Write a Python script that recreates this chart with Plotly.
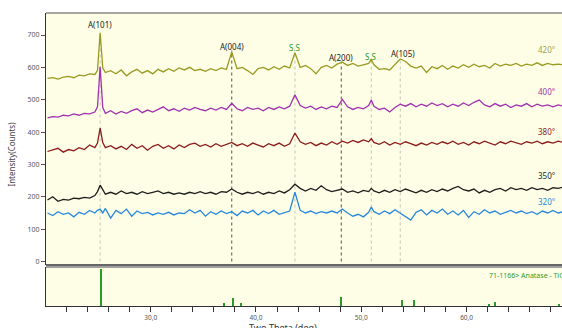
import plotly.graph_objects as go

# ---------------- data ----------------
two_theta = [20.2, 20.7, 21.2, 21.7, 22.2, 22.7, 23.2, 23.7, 24.2, 24.7,
             24.95, 25.2, 25.45,
             25.7, 26.2, 26.7, 27.2, 27.7, 28.2, 28.7, 29.2, 29.7,
             30.2, 30.7, 31.2, 31.7, 32.2, 32.7, 33.2, 33.7, 34.2, 34.7,
             35.2, 35.7, 36.2, 36.7, 37.2, 37.7, 38.2, 38.7, 39.2, 39.7,
             40.2, 40.7, 41.2, 41.7, 42.2, 42.7, 43.2, 43.7, 44.2, 44.7,
             45.2, 45.7, 46.2, 46.7, 47.2, 47.7, 48.2, 48.7, 49.2, 49.7,
             50.2, 50.7, 50.95, 51.2, 51.7, 52.2, 52.7, 53.2, 53.7, 54.2, 54.7,
             55.2, 55.7, 56.2, 56.7, 57.2, 57.7, 58.2, 58.7, 59.2, 59.7,
             60.2, 60.7, 61.2, 61.7, 62.2, 62.7, 63.2, 63.7, 64.2, 64.7,
             65.2, 65.7, 66.2, 66.7, 67.2, 67.7, 68.2, 68.7, 69.2]

s420 = [566, 568, 564, 570, 572, 568, 576, 574, 580, 578,
        590, 707, 598,
        584, 590, 580, 592, 574, 586, 594, 582, 590,
        580, 594, 586, 596, 588, 598, 592, 600, 590, 594,
        588, 596, 590, 598, 594, 648, 596, 600, 590, 578,
        596, 600, 592, 602, 594, 604, 598, 645, 600, 606,
        596, 580, 600, 606, 598, 610, 616, 606, 612, 604,
        608, 612, 624, 608, 594, 596, 592, 610, 626, 618, 604,
        598, 604, 584, 602, 596, 606, 594, 604, 598, 608,
        600, 610, 602, 606, 598, 612, 604, 610, 606, 612,
        604, 610, 606, 614, 606, 612, 608, 610, 608]

s400 = [444, 448, 446, 452, 450, 456, 452, 458, 456, 462,
        478, 602, 476,
        458, 466, 456, 464, 458, 466, 472, 460, 468,
        462, 470, 478, 466, 472, 464, 474, 468, 476, 470,
        466, 474, 468, 476, 470, 489, 472, 466, 476, 470,
        474, 466, 476, 470, 478, 472, 480, 515, 482, 474,
        480, 470, 478, 472, 480, 476, 501, 478, 470, 476,
        472, 482, 499, 480, 470, 474, 462, 476, 486, 480, 488,
        478, 486, 480, 490, 482, 488, 478, 486, 480, 490,
        482, 492, 499, 484, 478, 488, 480, 486, 476, 484,
        480, 488, 478, 486, 480, 484, 478, 484, 480]

s380 = [340, 346, 350, 338, 346, 342, 352, 346, 360, 352,
        366, 412, 368,
        352, 358, 348, 356, 346, 362, 350, 358, 344,
        356, 362, 350, 358, 348, 360, 352, 362, 366, 356,
        362, 354, 364, 356, 362, 368, 358, 364, 356, 366,
        360, 354, 364, 358, 366, 356, 364, 397, 370, 362,
        368, 358, 366, 360, 370, 362, 372, 366, 374, 368,
        376, 370, 380, 368, 362, 370, 360, 368, 362, 370, 364,
        358, 366, 360, 368, 362, 370, 364, 372, 362, 368,
        360, 370, 364, 372, 366, 360, 370, 364, 372, 366,
        362, 370, 366, 372, 364, 370, 366, 372, 368]

s350 = [190, 200, 186, 192, 190, 196, 194, 198, 196, 204,
        216, 236, 222,
        208, 214, 208, 218, 210, 214, 208, 216, 210,
        214, 218, 210, 214, 208, 212, 208, 214, 210, 216,
        210, 214, 208, 216, 214, 224, 214, 208, 214, 210,
        216, 208, 214, 210, 218, 212, 222, 239, 226, 218,
        226, 220, 234, 222, 216, 220, 224, 214, 218, 212,
        220, 216, 226, 218, 212, 220, 214, 222, 216, 224, 218,
        212, 220, 214, 222, 216, 224, 218, 226, 232, 222,
        218, 224, 212, 220, 214, 222, 226, 218, 228, 222,
        226, 220, 228, 222, 226, 220, 228, 226, 230]

s320 = [150, 142, 154, 146, 150, 138, 152, 146, 158, 150,
        158, 162, 150,
        164, 134, 158, 148, 162, 140, 156, 148, 152,
        144, 150, 146, 152, 144, 150, 148, 160, 150, 158,
        140, 154, 146, 156, 148, 154, 142, 156, 150, 158,
        144, 156, 148, 158, 146, 152, 156, 214, 158, 150,
        156, 148, 154, 150, 156, 150, 162, 150, 140, 146,
        138, 152, 168, 154, 146, 156, 148, 160, 150, 140, 128,
        152, 160, 144, 158, 150, 162, 146, 156, 144, 158,
        136, 154, 146, 160, 150, 156, 146, 152, 158, 150,
        156, 148, 154, 146, 156, 150, 158, 150, 154]

series_names = ["420°", "400°", "380°", "350°", "320°"]
series_data = [s420, s400, s380, s350, s320]
series_colors = ["#9a9a22", "#a032b0", "#8c1c1c", "#1e1e1e", "#2a88dc"]
label_colors = ["#a0a050", "#a032b0", "#8c1c1c", "#1e1e1e", "#2a88dc"]
label_y = [654, 524, 403, 267, 184]

# peak markers
peak_names = ["A(101)", "A(004)", "S.S", "A(200)", "S.S", "A(105)"]
peak_pos = [25.2, 37.7, 43.7, 48.1, 50.95, 53.7]
peak_label_y = [731, 666, 660, 629, 635, 644]
peak_line_top = [705, 652, 645, 618, 622, 628]

# reference card 71-1166 Anatase - TiO2
ref_pos = [25.3, 36.95, 37.8, 38.57, 48.05, 53.89, 55.06, 62.12, 62.69, 68.76]
ref_int = [100, 8, 22, 9, 25, 17, 17, 4, 11, 5]

# ---------------- figure ----------------
fig = go.Figure()
for name, ys, col in zip(series_names, series_data, series_colors):
    fig.add_trace(go.Scatter(x=two_theta, y=ys, mode="lines", name=name,
                             line=dict(color=col, width=1.3),
                             xaxis="x", yaxis="y", showlegend=False))

fig.add_trace(go.Bar(x=ref_pos, y=ref_int, width=0.12, marker=dict(color="#2a9a2a", line=dict(width=0)),
                     xaxis="x2", yaxis="y2", showlegend=False))

font_fam = "Noto Sans, DejaVu Sans, sans-serif"
annotations = []
shapes = []

for name, yv, col in zip(series_names, label_y, label_colors):
    annotations.append(dict(x=67.6, y=yv, xref="x", yref="y", text=name, showarrow=False,
                            font=dict(size=8, color=col, family=font_fam)))

for name, px, ly, lt in zip(peak_names, peak_pos, peak_label_y, peak_line_top):
    col = "#2a9a2a" if name == "S.S" else "#222222"
    dark = name in ("A(004)", "A(200)")
    annotations.append(dict(x=px + (0.3 if name == "A(105)" else 0), y=ly, xref="x", yref="y", text=name,
                            showarrow=False, font=dict(size=8, color=col, family=font_fam)))
    shapes.append(dict(type="line", xref="x", yref="y", x0=px, x1=px, y0=0, y1=lt,
                       line=dict(color="#555555" if dark else "#c4c4b4", width=1, dash="dot"),
                       layer="below"))

annotations.append(dict(x=61.94, y=0.127, xref="x2", yref="paper", text="71-1166> Anatase - TiO2",
                        xanchor="left", yanchor="top", showarrow=False,
                        font=dict(size=7, color="#2a9a2a", family=font_fam)))
annotations.append(dict(x=-0.066, y=0.52, xref="paper", yref="paper", text="Intensity(Counts)",
                        textangle=-90, showarrow=False, xanchor="center",
                        font=dict(size=8, color="#444444", family=font_fam)))
annotations.append(dict(x=0.459, y=-0.074, xref="paper", yref="paper", text="Two-Theta (deg)",
                        showarrow=False, yanchor="middle",
                        font=dict(size=9, color="#333333", family=font_fam)))

# frame lines
shapes.append(dict(type="line", xref="paper", yref="paper", x0=0, x1=1, y0=1, y1=1,
                   line=dict(color="#8a8a8a", width=1.5)))
shapes.append(dict(type="line", xref="paper", yref="paper", x0=0, x1=1, y0=0.1399, y1=0.1399,
                   line=dict(color="#666666", width=2)))
shapes.append(dict(type="line", xref="paper", yref="paper", x0=0, x1=1, y0=0.1331, y1=0.1331,
                   line=dict(color="#808080", width=1.5)))

tickvals = list(range(22, 70, 2))
ticktext = [f"{v},0" if v % 10 == 0 else "" for v in tickvals]
xrange = [20.06, 69.06]

fig.update_layout(
    width=562, height=328,
    margin=dict(l=46, r=0, t=13, b=22),
    paper_bgcolor="white",
    plot_bgcolor="#fefee6",
    font=dict(family=font_fam, size=7, color="#555555"),
    bargap=0,
    xaxis=dict(domain=[0, 1], range=xrange, anchor="y", showticklabels=False, ticks="",
               showgrid=False, zeroline=False, showline=False, matches="x2"),
    yaxis=dict(domain=[0.1399, 1], range=[-10.8, 768], tickvals=[0, 100, 200, 300, 400, 500, 600, 700],
               ticks="outside", ticklen=4, tickcolor="#555555", showgrid=False, zeroline=False,
               showline=True, linecolor="#333333", linewidth=1,
               tickfont=dict(size=7, color="#555555")),
    xaxis2=dict(domain=[0, 1], range=xrange, anchor="y2", tickvals=tickvals, ticktext=ticktext,
                ticks="outside", ticklen=5, tickcolor="#333333", showgrid=False, zeroline=False,
                showline=True, linecolor="#333333", linewidth=1,
                tickfont=dict(size=6.5, color="#555555")),
    yaxis2=dict(domain=[0, 0.1331], range=[0, 105.5], showticklabels=False, ticks="",
                showgrid=False, zeroline=False, showline=True, linecolor="#333333", linewidth=1),
    annotations=annotations,
    shapes=shapes,
)

fig.write_html("out.html", config={"displayModeBar": False},
               post_script="document.body.style.margin='0px';document.body.style.overflow='hidden';")
